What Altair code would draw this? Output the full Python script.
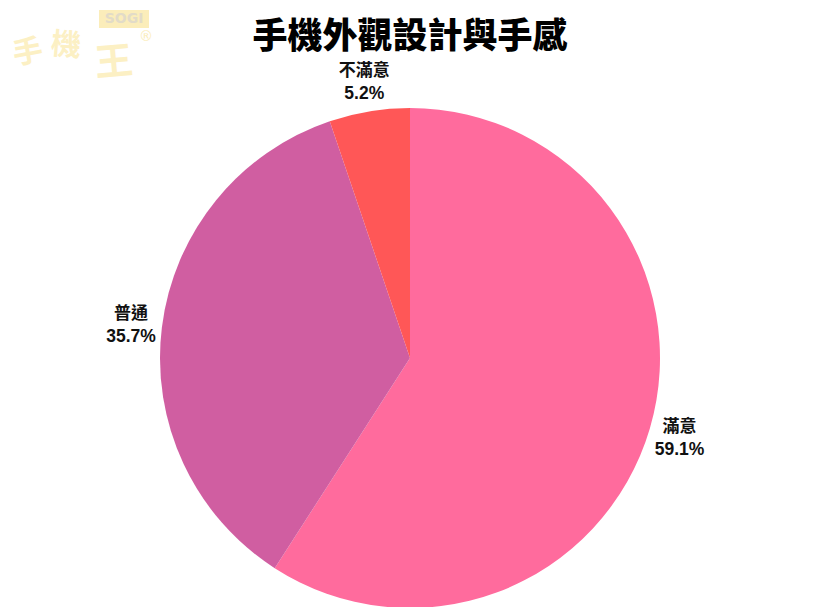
import altair as alt
import pandas as pd

categories = ["滿意", "普通", "不滿意"]
values = [59.1, 35.7, 5.2]
colors = ["#FF6B9D", "#D05EA1", "#FF5757"]
title_text = "手機外觀設計與手感"
logo_chars = ["手", "機", "王"]

df = pd.DataFrame({
    "cat": categories,
    "val": values,
    "idx": list(range(len(categories))),
})
df["pct"] = [f"{v}%" for v in values]

FONT = "Liberation Sans, Noto Sans CJK TC"
CJK = "Noto Sans CJK TC"
CX, CY = 402, 350

base = alt.Chart(df).encode(
    theta=alt.Theta("val:Q", stack=True),
    order=alt.Order("idx:O"),
)

arcs = base.mark_arc(outerRadius=250).encode(
    x=alt.value(CX), y=alt.value(CY),
    color=alt.Color("cat:N", scale=alt.Scale(domain=categories, range=colors), legend=None),
)

names = base.mark_text(
    radius=281, dy=-10, font=CJK, fontSize=17, fontWeight="bold", color="#111111",
    align="center", baseline="middle",
).encode(x=alt.value(CX), y=alt.value(CY), text="cat:N")

pcts = base.mark_text(
    radius=281, dy=13, font=FONT, fontSize=17.5, fontWeight="bold", color="#111111",
    align="center", baseline="middle",
).encode(x=alt.value(CX), y=alt.value(CY), text="pct:N")

title = alt.Chart(pd.DataFrame({"t": [title_text]})).mark_text(
    font=CJK, fontSize=35, fontWeight=900, color="#000000", align="center", baseline="middle",
).encode(x=alt.value(CX), y=alt.value(29), text="t:N")

LOGO_C = "#FCF0C4"
logo1 = alt.Chart(pd.DataFrame({"t": [logo_chars[0]]})).mark_text(
    font=CJK, fontSize=30, fontWeight="bold", color=LOGO_C, align="center", baseline="middle", angle=350,
).encode(x=alt.value(20), y=alt.value(45), text="t:N")
logo2 = alt.Chart(pd.DataFrame({"t": [logo_chars[1]]})).mark_text(
    font=CJK, fontSize=30, fontWeight="bold", color=LOGO_C, align="center", baseline="middle", angle=5,
).encode(x=alt.value(58), y=alt.value(38), text="t:N")
logo3 = alt.Chart(pd.DataFrame({"t": [logo_chars[2]]})).mark_text(
    font=CJK, fontSize=38, fontWeight="bold", color=LOGO_C, align="center", baseline="middle", angle=355,
).encode(x=alt.value(106), y=alt.value(56), text="t:N")
sogi_box = alt.Chart(pd.DataFrame({"a": [0]})).mark_rect(color="#FBEDBA").encode(
    x=alt.value(91), x2=alt.value(141), y=alt.value(2), y2=alt.value(20)
)
sogi = alt.Chart(pd.DataFrame({"t": ["SOGI"]})).mark_text(
    font="DejaVu Sans", fontSize=14, fontWeight="bold", color="#E2DBC8", align="center", baseline="middle",
).encode(x=alt.value(116), y=alt.value(11), text="t:N")
reg = alt.Chart(pd.DataFrame({"t": ["®"]})).mark_text(
    font="DejaVu Sans", fontSize=14, color="#FBEDBA", align="center", baseline="middle",
).encode(x=alt.value(138), y=alt.value(29), text="t:N")

chart = alt.layer(sogi_box, sogi, reg, logo1, logo2, logo3, arcs, names, pcts, title).properties(
    width=804, height=599,
    autosize=alt.AutoSizeParams(type="fit", contains="padding"),
    padding=0,
).configure_view(strokeWidth=0)

chart.save("out.html", embed_options={"renderer": "svg", "actions": False})
